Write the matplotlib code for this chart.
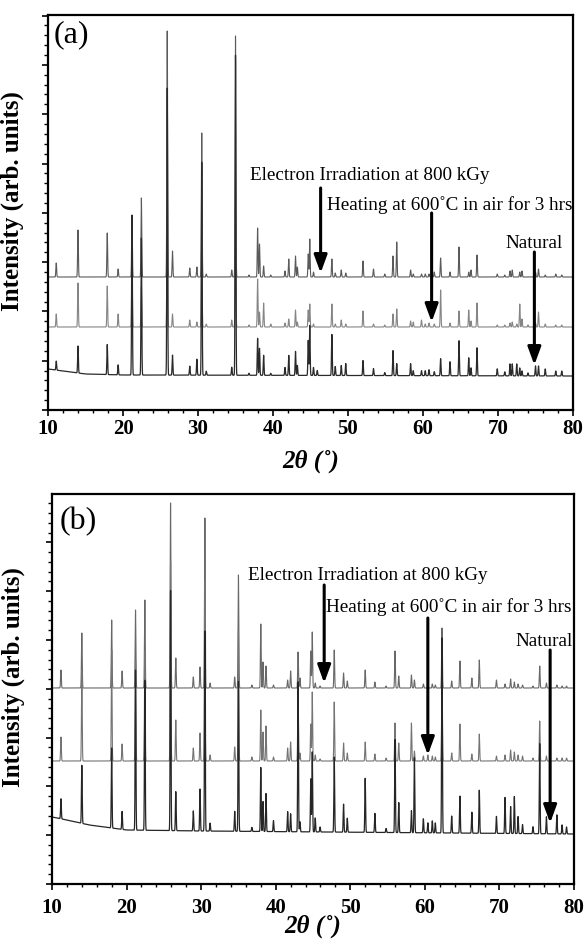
import numpy as np
import matplotlib
matplotlib.use("Agg")
import matplotlib.pyplot as plt
from matplotlib.ticker import MultipleLocator

plt.rcParams['font.family'] = ['Liberation Serif', 'DejaVu Serif']

# ---------------- data: panel (a) ----------------
pos_a = [11.1, 14.0, 17.9, 19.35, 21.2, 22.45, 25.9, 26.6, 28.9, 29.85, 30.5, 31.1,
         34.5, 35.0, 36.8, 37.95, 38.2, 38.75, 39.7, 41.6, 42.1, 43.0, 43.25, 44.7,
         44.9, 45.4, 45.9, 47.85, 48.3, 49.1, 49.7, 52.0, 53.4, 54.9, 56.0, 56.5,
         58.35, 58.7, 59.8, 60.3, 60.8, 61.5, 62.35, 63.6, 64.8, 66.1, 66.4, 67.2,
         69.9, 70.9, 71.6, 71.9, 72.5, 72.9, 73.2, 74.0, 75.0, 75.4, 76.3, 77.7, 78.5]
elec_a = [14, 47, 44, 8, 60, 79, 246, 26, 9, 10, 144, 3,
          7, 241, 2, 49, 33, 11, 2, 6, 18, 21, 10, 23,
          38, 5, 0, 18, 4, 7, 4, 16, 8, 3, 21, 35,
          7, 3, 3, 3, 3, 5, 19, 5, 30, 5, 7, 22,
          3, 2, 6, 7, 0, 5, 6, 0, 5, 8, 2, 3, 2]
heat_a = [13, 44, 41, 13, 60, 40, 150, 13, 7, 5, 100, 3,
          7, 150, 2, 48, 15, 24, 3, 4, 8, 17, 5, 17,
          23, 3, 0, 23, 3, 7, 3, 16, 3, 2, 13, 18,
          6, 5, 7, 3, 4, 3, 37, 4, 16, 17, 6, 24,
          2, 2, 4, 5, 3, 23, 8, 2, 4, 15, 3, 2, 2]
nat_a = [9, 27, 30, 10, 160, 137, 287, 20, 9, 16, 213, 4,
         8, 320, 2, 37, 27, 20, 2, 8, 20, 24, 10, 35,
         50, 8, 5, 41, 9, 10, 12, 15, 7, 3, 25, 12,
         12, 5, 5, 5, 6, 4, 17, 14, 35, 18, 8, 28,
         7, 4, 12, 12, 12, 8, 5, 3, 10, 10, 7, 5, 5]
base_elec_a = 133
base_heat_a = 83
nat_base_x_a = [10, 12, 15, 20, 80]
nat_base_y_a = [41, 39, 36, 35, 34]

# ---------------- data: panel (b) ----------------
pos_b = [11.2, 14.0, 18.0, 19.4, 21.2, 22.45, 25.9, 26.6, 28.95, 29.85, 30.5, 31.2,
         34.5, 35.0, 36.8, 38.0, 38.3, 38.7, 39.7, 41.6, 42.0, 43.0, 43.25, 44.7,
         44.9, 45.3, 45.95, 47.85, 49.1, 49.6, 52.0, 53.3, 54.8, 56.0, 56.5, 58.2,
         58.6, 59.8, 60.4, 61.0, 61.4, 62.3, 63.6, 64.7, 66.3, 67.3, 69.6, 70.75,
         71.5, 72.0, 72.5, 73.1, 74.5, 75.4, 76.3, 77.7, 78.4, 79.0]
elec_b = [18, 55, 68, 17, 78, 88, 185, 30, 11, 21, 170, 5,
          11, 113, 3, 64, 26, 22, 3, 8, 17, 36, 10, 37,
          56, 5, 2, 38, 15, 7, 18, 6, 2, 37, 12, 13,
          8, 4, 3, 4, 3, 60, 7, 27, 10, 28, 8, 4,
          9, 6, 4, 3, 2, 22, 5, 3, 2, 2]
heat_b = [24, 90, 111, 17, 100, 110, 200, 41, 13, 28, 180, 6,
          14, 130, 4, 51, 29, 35, 4, 13, 19, 70, 8, 37,
          69, 6, 2, 59, 18, 8, 19, 7, 3, 38, 18, 38,
          10, 5, 6, 5, 4, 80, 8, 37, 7, 27, 5, 6,
          11, 9, 6, 5, 3, 40, 5, 3, 3, 3]
nat_b = [20, 58, 80, 18, 160, 150, 240, 39, 20, 42, 200, 8,
         20, 150, 4, 64, 30, 38, 11, 20, 18, 150, 10, 53,
         80, 14, 5, 75, 28, 14, 54, 19, 4, 93, 30, 22,
         75, 14, 10, 12, 10, 195, 17, 37, 21, 43, 17, 36,
         27, 37, 17, 9, 7, 90, 17, 19, 9, 7]
base_elec_b = 196
base_heat_b = 123
nat_base_x_b = [10, 12, 15, 18, 20, 30, 80]
nat_base_y_b = [67, 64, 59, 56, 54, 53, 50]

labels = ["Electron Irradiation at 800 kGy", "Heating at 600\u02daC in air for 3 hrs", "Natural"]

# ---------------- helpers ----------------
xx = np.arange(10, 80.0001, 0.01)
SIG = 0.05


def profile(base, pos, hts):
    y = np.zeros_like(xx) + base
    for p, h in zip(pos, hts):
        if h > 0:
            y += h * np.exp(-0.5 * ((xx - p) / SIG) ** 2)
    return y


fig = plt.figure(figsize=(5.86, 9.40), dpi=100)
W, H = 586.0, 940.0


def make_ax(l, r, t, b):
    return fig.add_axes([l / W, 1 - b / H, (r - l) / W, (b - t) / H])


ax_a = make_ax(48, 573, 15, 410)
ax_b = make_ax(52, 574, 494, 884)

tick_font = dict(family=['Liberation Serif', 'DejaVu Serif'], weight='bold', size=15)
ANN = 13.8


def style(ax, ymax, major, xpad, xlab_y, ylab_x):
    ax.set_xlim(10, 80)
    ax.set_ylim(0, ymax)
    for s in ax.spines.values():
        s.set_linewidth(1.6)
    ax.xaxis.set_major_locator(MultipleLocator(10))
    ax.xaxis.set_minor_locator(MultipleLocator(2))
    ax.yaxis.set_major_locator(MultipleLocator(major))
    ax.yaxis.set_minor_locator(MultipleLocator(major / 5))
    ax.tick_params(axis='x', which='major', direction='out', length=4, width=1.2, pad=xpad)
    ax.tick_params(axis='x', which='minor', direction='out', length=2.5, width=1.0)
    ax.tick_params(axis='y', which='major', direction='out', length=4.5, width=1.2)
    ax.tick_params(axis='y', which='minor', direction='out', length=3, width=1.0)
    ax.tick_params(axis='y', which='both', labelleft=False)
    for lab in ax.get_xticklabels():
        lab.set_fontproperties(matplotlib.font_manager.FontProperties(**tick_font))
    ax.set_ylabel("Intensity (arb. units)", fontsize=18, fontweight='bold')
    ax.yaxis.set_label_coords(ylab_x, 0.53)
    ax.set_xlabel("2\u03b8 (\u02da)", fontsize=18, fontweight='bold', fontstyle='italic')
    ax.xaxis.set_label_coords(0.5, xlab_y)


def arrow(ax, x, y0, y1):
    ax.annotate('', xy=(x, y1), xytext=(x, y0),
                arrowprops=dict(arrowstyle='-|>,head_length=0.9,head_width=0.33',
                                lw=2.2, color='black', mutation_scale=12,
                                shrinkA=0, shrinkB=0))


# ---------------- panel (a) ----------------
nb_a = np.interp(xx, nat_base_x_a, nat_base_y_a)
ax_a.plot(xx, profile(base_elec_a, pos_a, elec_a), color='#5a5a5a', lw=0.8)
ax_a.plot(xx, profile(base_heat_a, pos_a, heat_a), color='#858585', lw=0.8)
ax_a.plot(xx, profile(0, pos_a, nat_a) + nb_a, color='#2a2a2a', lw=0.9)
style(ax_a, 395, 49.3, 2.5, -0.1, -0.046)
ax_a.text(10.7, 375, "(a)", fontsize=23, va='center', ha='left')
ax_a.text(36.9, 235, labels[0], fontsize=ANN, va='center', ha='left')
arrow(ax_a, 46.35, 222, 137)
ax_a.text(79.9, 205, labels[1], fontsize=ANN, va='center', ha='right')
arrow(ax_a, 61.15, 197, 88)
ax_a.text(74.75, 167, labels[2], fontsize=ANN, va='center', ha='center')
arrow(ax_a, 74.85, 158, 45)

# ---------------- panel (b) ----------------
nb_b = np.interp(xx, nat_base_x_b, nat_base_y_b)
ax_b.plot(xx, profile(base_elec_b, pos_b, elec_b), color='#686868', lw=0.8)
ax_b.plot(xx, profile(base_heat_b, pos_b, heat_b), color='#747474', lw=0.8)
ax_b.plot(xx, profile(0, pos_b, nat_b) + nb_b, color='#262626', lw=0.9)
style(ax_b, 390, 48.8, 6.0, -0.078, -0.052)
ax_b.text(11.0, 362, "(b)", fontsize=23, va='center', ha='left')
ax_b.text(36.3, 309, labels[0], fontsize=ANN, va='center', ha='left')
arrow(ax_b, 46.5, 299, 201)
ax_b.text(79.7, 277, labels[1], fontsize=ANN, va='center', ha='right')
arrow(ax_b, 60.4, 266, 129)
ax_b.text(79.8, 242, labels[2], fontsize=ANN, va='center', ha='right')
arrow(ax_b, 76.8, 234, 61)

fig.savefig("out.png", dpi=100)
